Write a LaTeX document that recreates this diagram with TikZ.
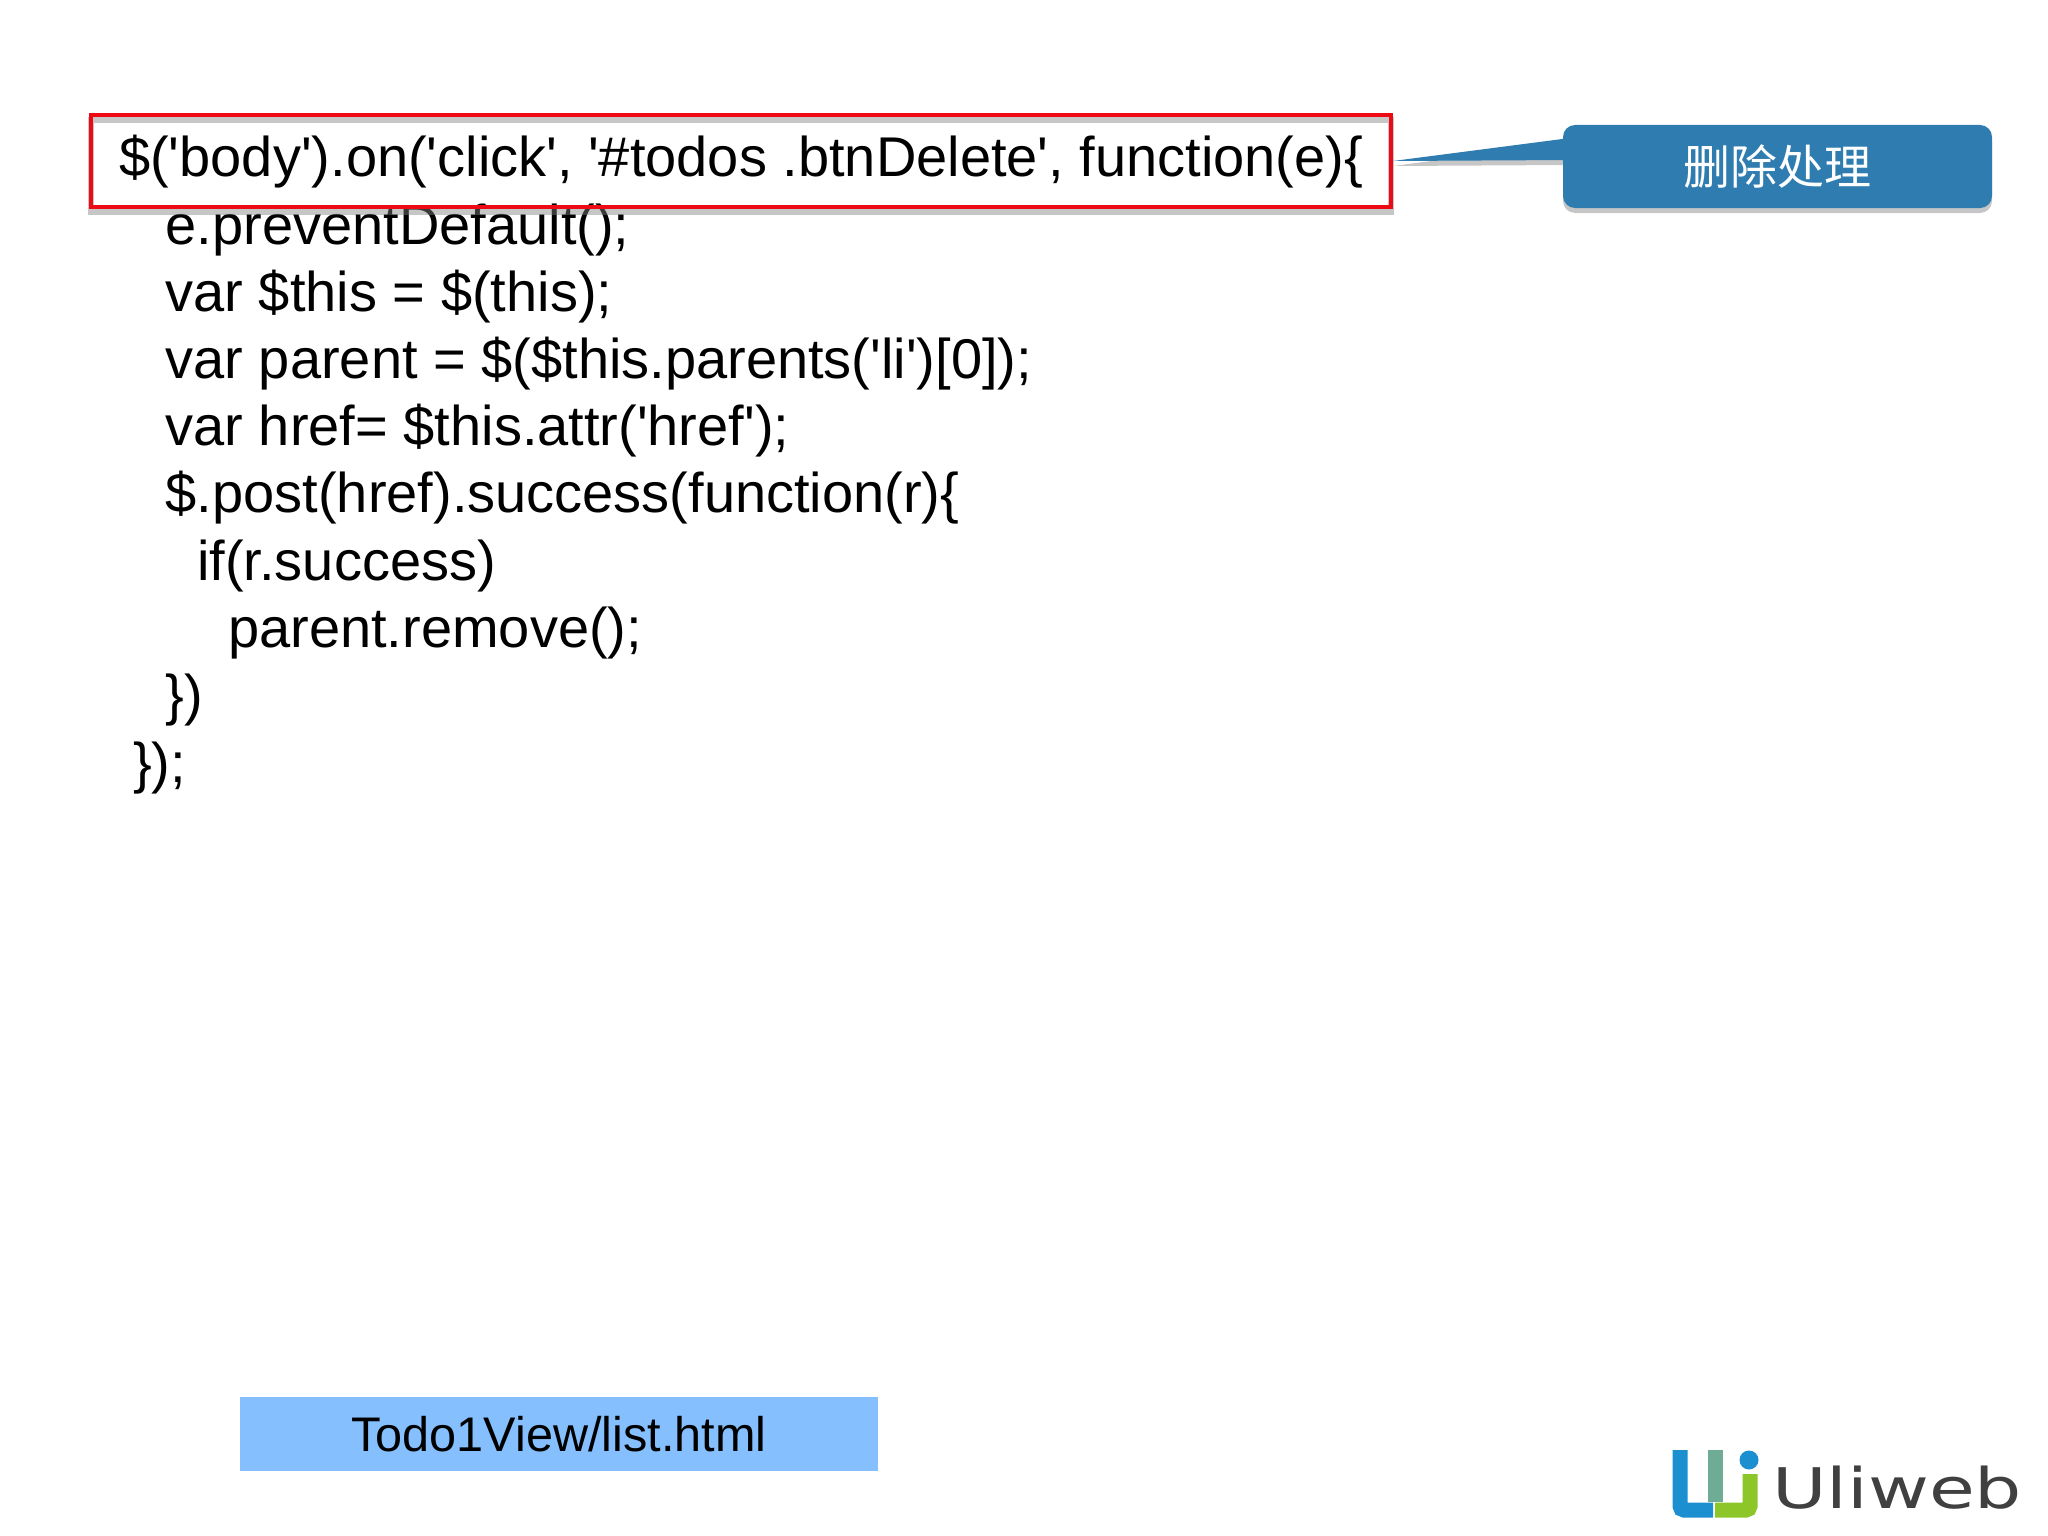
\documentclass[tikz,border=0pt]{standalone}
\usepackage{fontspec}
\usepackage{tikz}
\usetikzlibrary{shadows}
\newfontfamily\CodeFont{Liberation Sans}
\newfontfamily\LogoFont{DejaVu Sans}
\newfontfamily\CjkFont{Noto Sans CJK SC}
\definecolor{ColRed}{RGB}{238,10,20}
\definecolor{ColCallout}{RGB}{47,125,176}
\definecolor{ColFile}{RGB}{133,191,253}
\definecolor{ColLogoA}{RGB}{27,143,207}
\definecolor{ColLogoB}{RGB}{110,172,150}
\definecolor{ColLogoC}{RGB}{140,198,40}
\tikzstyle{CodeLine}=[anchor=base west,inner sep=0pt,font=\CodeFont\fontsize{56}{56}\selectfont]
\tikzstyle{RedBox}=[draw=ColRed,line width=4pt,minimum width=1300pt,minimum height=91pt,inner sep=0pt]
\tikzstyle{RedShadow}=[RedBox,draw=gray,line width=6pt,opacity=.45]
\tikzstyle{Callout}=[fill=ColCallout,rounded corners=12pt,minimum width=429pt,minimum height=83pt,
inner sep=0pt,text=white,font=\CjkFont\fontsize{47}{47}\selectfont]
\tikzstyle{CalloutShadow}=[drop shadow={shadow xshift=0pt,shadow yshift=-5pt,opacity=.45}]
\tikzstyle{FileBox}=[fill=ColFile,minimum width=638pt,minimum height=74pt,inner sep=0pt,
font=\CodeFont\fontsize{48.6}{49}\selectfont]
\tikzstyle{LogoBar}=[line width=15pt,rounded corners=4pt]
\begin{document}
\begin{tikzpicture}[x=1pt,y=1pt]
        \useasboundingbox(0,0)rectangle(2048,-1536);
        \node[CodeLine](l1)at(119,-176.5){\$('body').on('click', '\#todos .btnDelete', function(e)\{};
        \node[CodeLine](l2)at(165.5,-244){e.preventDefault();};
        \node[CodeLine](l3)at(165.5,-311){var \$this = \$(this);};
        \node[CodeLine](l4)at(165.5,-378){var parent = \$(\$this.parents('li')[0]);};
        \node[CodeLine](l5)at(165.5,-445.5){var href= \$this.attr('href');};
        \node[CodeLine](l6)at(165.5,-512.5){\$.post(href).success(function(r)\{};
        \node[CodeLine](l7)at(197,-580){if(r.success)};
        \node[CodeLine](l8)at(228,-647.5){parent.remove();};
        \node[CodeLine](l9)at(165.5,-714.5){\})};
        \node[CodeLine](l10)at(133,-782){\});};
        \node[RedShadow](redshadow)at(741,-166){};
        \node[RedBox](redbox)at(741,-161){};
        \coordinate(tip)at(redbox.east);
        \coordinate(wedgetop)at(1570,-138);
        \coordinate(wedgebot)at(1570,-160);
        \fill[ColCallout,CalloutShadow](tip)--(wedgetop)--(wedgebot)--cycle;
        \node[Callout,CalloutShadow](callout)at(1777.5,-166.5){删除处理};
        \node[FileBox](filebox)at(559,-1434){Todo1View/list.html};
        \node[circle,fill=ColLogoA,minimum size=19pt,inner sep=0pt](logodot)at(1749,-1460){};
        \draw[ColLogoA,LogoBar](1680,-1450)--(1680,-1510)--(1713,-1510);
        \draw[ColLogoB,LogoBar](1715,-1450)--(1715,-1502);
        \draw[ColLogoC,LogoBar](1715,-1510)--(1750,-1510)--(1750,-1474);
        \node[anchor=base west,inner sep=0pt,text=black!75,xscale=1.33,font=\LogoFont\fontsize{56}{56}\selectfont](logotext)at(1772,-1508){Uliweb};
\end{tikzpicture}
\end{document}
